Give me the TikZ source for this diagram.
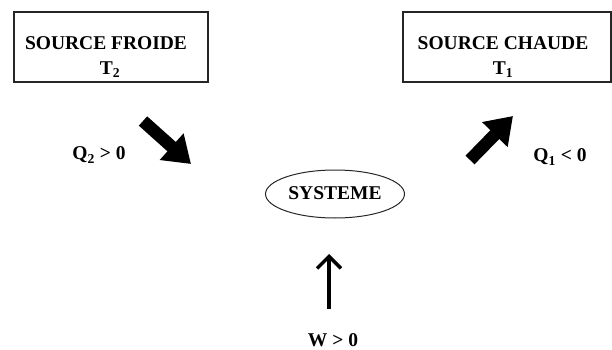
\documentclass[tikz,border=0pt]{standalone}
\usepackage{fontspec}
\setmainfont{Liberation Serif}
\usetikzlibrary{arrows.meta,shapes.geometric}
\begin{document}
\begin{tikzpicture}[x=1pt,y=-1pt,
  srcbox/.style={draw=black!85,line width=1.3pt,minimum width=194pt,minimum height=70pt,inner sep=0pt},
  lbl/.style={font=\fontsize{19.5}{22}\selectfont\bfseries,inner sep=0pt},
  fatarrow/.style={line width=12.5pt,-{Triangle[length=26pt,width=34pt]}},
  thinarrow/.style={line width=3.4pt,-{Straight Barb[length=12pt,width=24pt]}}]
\useasboundingbox (0,0) rectangle (612,350);
\node[srcbox] (froide) at (111,47) {};
\node[lbl] (froidet) at (106,43) {SOURCE FROIDE};
\node[lbl] (t2) at (110,70) {T\textsubscript{2}};
\node[srcbox,minimum width=208pt] (chaude) at (507,47) {};
\node[lbl] (chaudet) at (503,43) {SOURCE CHAUDE};
\node[lbl] (t1) at (503,70) {T\textsubscript{1}};
\node[draw=black!85,line width=1pt,ellipse,minimum width=139pt,minimum height=48pt,inner sep=0pt] (sys) at (335,194) {};
\node[lbl] (syst) at (335,193) {SYSTEME};
\node[lbl] (q2) at (99,155) {Q\textsubscript{2} > 0};
\node[lbl] (q1) at (560,157) {Q\textsubscript{1} < 0};
\node[lbl] (w) at (333,340) {W > 0};
\coordinate (a1s) at (143,121);
\coordinate (a1e) at (191,164);
\coordinate (a2s) at (470,160);
\coordinate (a2e) at (513,116);
\coordinate (a3s) at (329,309);
\coordinate (a3e) at (329,254);
\draw[fatarrow] (a1s) -- (a1e);
\draw[fatarrow] (a2s) -- (a2e);
\draw[thinarrow] (a3s) -- (a3e);
\end{tikzpicture}
\end{document}
